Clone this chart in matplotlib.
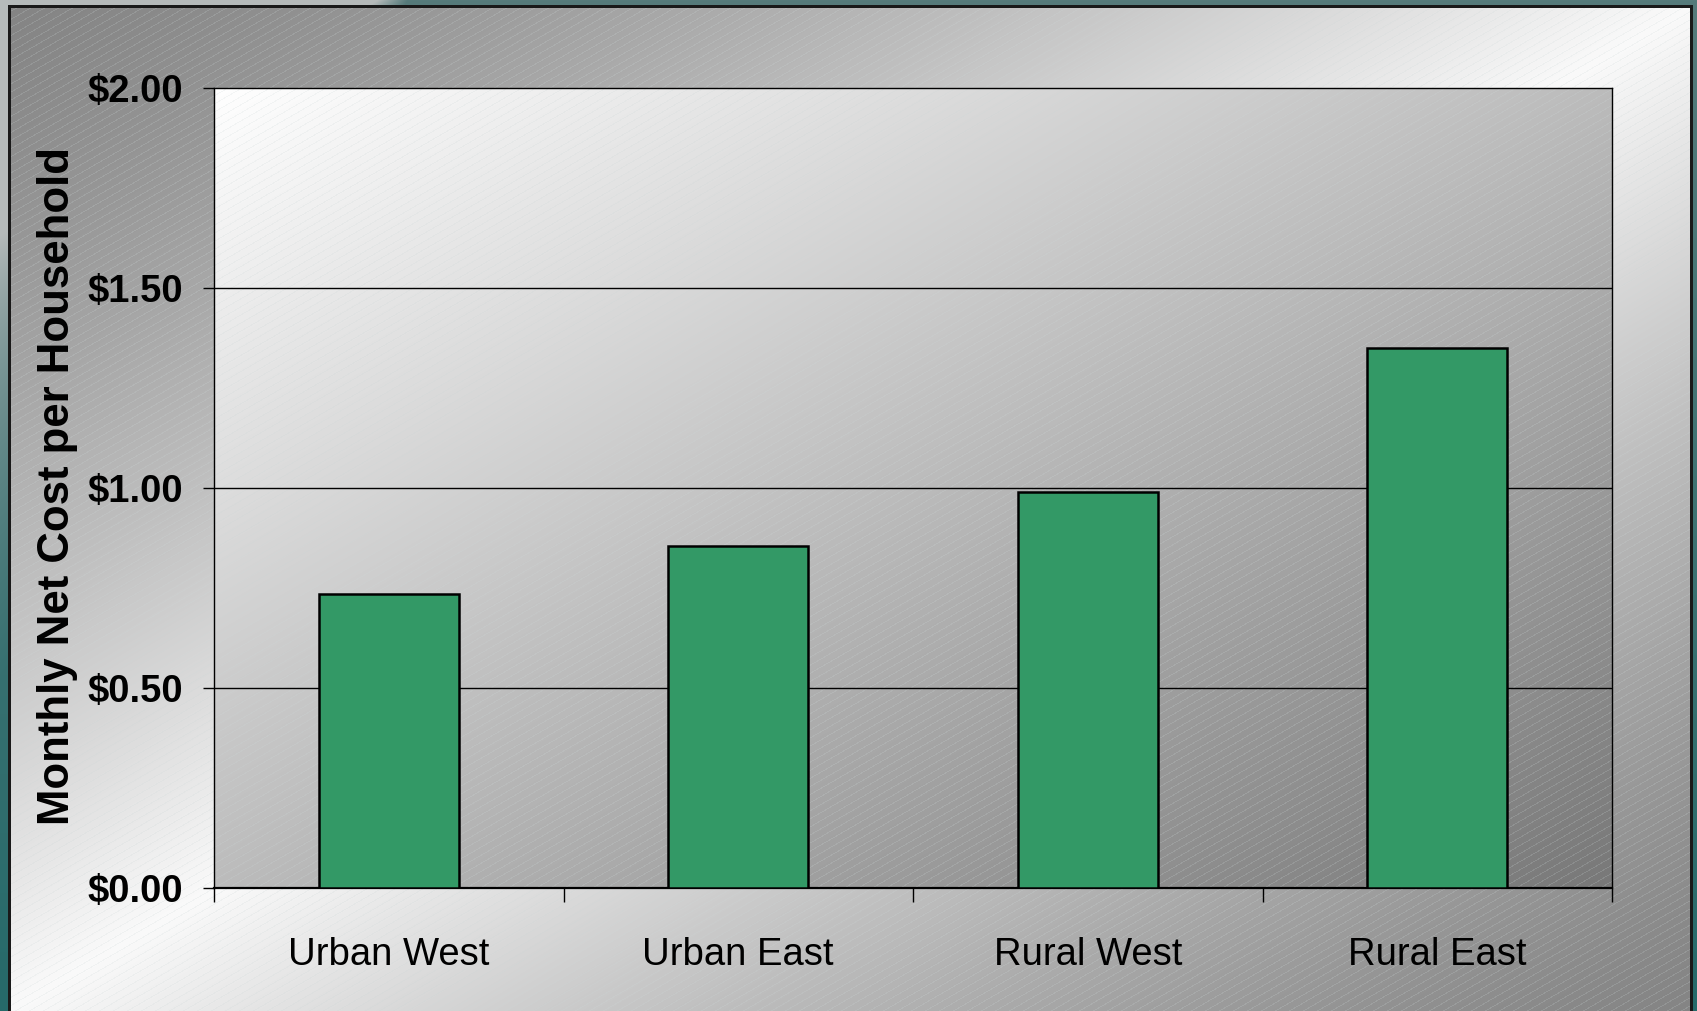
import numpy as np
import matplotlib
matplotlib.use("Agg")
import matplotlib.pyplot as plt
from matplotlib import transforms

# ---- chart data ----
categories = ["Urban West", "Urban East", "Rural West", "Rural East"]
net_cost = [0.735, 0.855, 0.99, 1.35]
y_ticks = [0.0, 0.5, 1.0, 1.5, 2.0]
y_tick_labels = ["$0.00", "$0.50", "$1.00", "$1.50", "$2.00"]
y_label = "Monthly Net Cost per Household"

W, H, DPI = 1697, 1011, 100
fig = plt.figure(figsize=(W / DPI, H / DPI), dpi=DPI)

BAR_GREEN = "#339966"
TEXT_FONT = ["Liberation Sans", "DejaVu Sans"]


def stripes(xx, yy, base):
    """Overlay thin diagonal pin-stripes on an RGB array."""
    theta = np.deg2rad(30)
    d = xx * np.sin(theta) + yy * np.cos(theta)
    mask = (np.mod(d, 7.0) < 1.0)[..., None]
    tint = np.array([0.80, 0.84, 0.84])
    return np.where(mask, base * 0.8 + tint * 0.2, base)


# ---- slide background: grey/teal backdrop with a pin-striped panel ----
yy, xx = np.mgrid[0:H, 0:W].astype(float)
light = np.array([181, 186, 186]) / 255
teal_top = np.array([86, 123, 123]) / 255
teal_bot = np.array([38, 106, 106]) / 255
v = (yy / H)[..., None]
teal = teal_top * (1 - v) + teal_bot * v
m = np.clip((xx + 1.6 * yy - 377) / (30 + yy), 0, 1)[..., None]
bg = light * (1 - m) + teal * m

px0, py0, px1 = 9, 6, 1691
t = ((xx - px0) / (px1 - px0) + (yy - py0) / (H - py0)) / 2
g = np.clip(1 - np.abs(t - 0.5) / 0.5, 0, 1)
panel_val = 0.52 + 0.46 * g ** 1.3
panel = np.repeat(panel_val[..., None], 3, axis=2)
panel = stripes(xx, yy, panel)
inside = ((xx >= px0) & (xx <= px1) & (yy >= py0))[..., None]
bg = np.where(inside, panel, bg)
border = (((np.abs(xx - px0) < 1.5) | (np.abs(xx - px1) < 1.5)) & (yy >= py0 - 1)) | \
         ((np.abs(yy - py0) < 1.2) & (xx >= px0) & (xx <= px1))
bg[border] = np.array([0.1, 0.1, 0.1])

bg_ax = fig.add_axes([0, 0, 1, 1], zorder=-10)
bg_ax.imshow(bg, aspect="auto", interpolation="nearest", extent=[0, 1, 0, 1])
bg_ax.set_axis_off()

# ---- plot area ----
ax_left, ax_right, ax_top, ax_bottom = 214, 1612, 88, 888
ax = fig.add_axes([ax_left / W, 1 - ax_bottom / H,
                   (ax_right - ax_left) / W, (ax_bottom - ax_top) / H])

aw, ah = ax_right - ax_left, ax_bottom - ax_top
ay, axx = np.mgrid[0:ah, 0:aw].astype(float)
tp = (axx / aw + ay / ah) / 2
plot_val = 1.0 - 0.53 * tp
plot_bg = np.repeat(plot_val[..., None], 3, axis=2)
plot_bg = np.clip(stripes(axx + ax_left, ay + ax_top, plot_bg), 0, 1)
ax.imshow(plot_bg, extent=[0, 1, 0, 1], transform=ax.transAxes,
          aspect="auto", interpolation="nearest", zorder=0)

x = np.arange(len(categories))
ax.bar(x, net_cost, width=0.4, color=BAR_GREEN, edgecolor="black",
       linewidth=1.8, zorder=3)

ax.set_xlim(-0.5, len(categories) - 0.5)
ax.set_ylim(y_ticks[0], y_ticks[-1])

# horizontal gridlines
for yv in y_ticks[1:-1]:
    ax.axhline(yv, color="black", linewidth=1.0, zorder=1)

for side in ["left", "right", "top"]:
    ax.spines[side].set_color("black")
    ax.spines[side].set_linewidth(1.0)
ax.spines["bottom"].set_linewidth(1.6)

ax.set_yticks(y_ticks)
ax.set_yticklabels(y_tick_labels, fontsize=27.5, fontweight="bold",
                   family=TEXT_FONT)
ax.tick_params(axis="y", direction="out", length=7.9, width=1.0,
               pad=14.0, colors="black")

ax.set_xticks(np.arange(-0.5, len(categories), 1.0))
ax.set_xticklabels([])
ax.tick_params(axis="x", direction="out", length=10, width=1.0)

# category labels below the axis
trans = transforms.blended_transform_factory(ax.transData, ax.transAxes)
for xi, name in zip(x, categories):
    ax.text(xi, -0.0962, name, transform=trans, ha="center", va="baseline",
            fontsize=27.5, family=TEXT_FONT, color="black")

fig.text(58 / W, 1 - 485.5 / H, y_label, rotation=90, ha="center",
         va="center", fontsize=31.5, fontweight="bold", family=TEXT_FONT,
         color="black")

fig.savefig("out.png", dpi=DPI)
